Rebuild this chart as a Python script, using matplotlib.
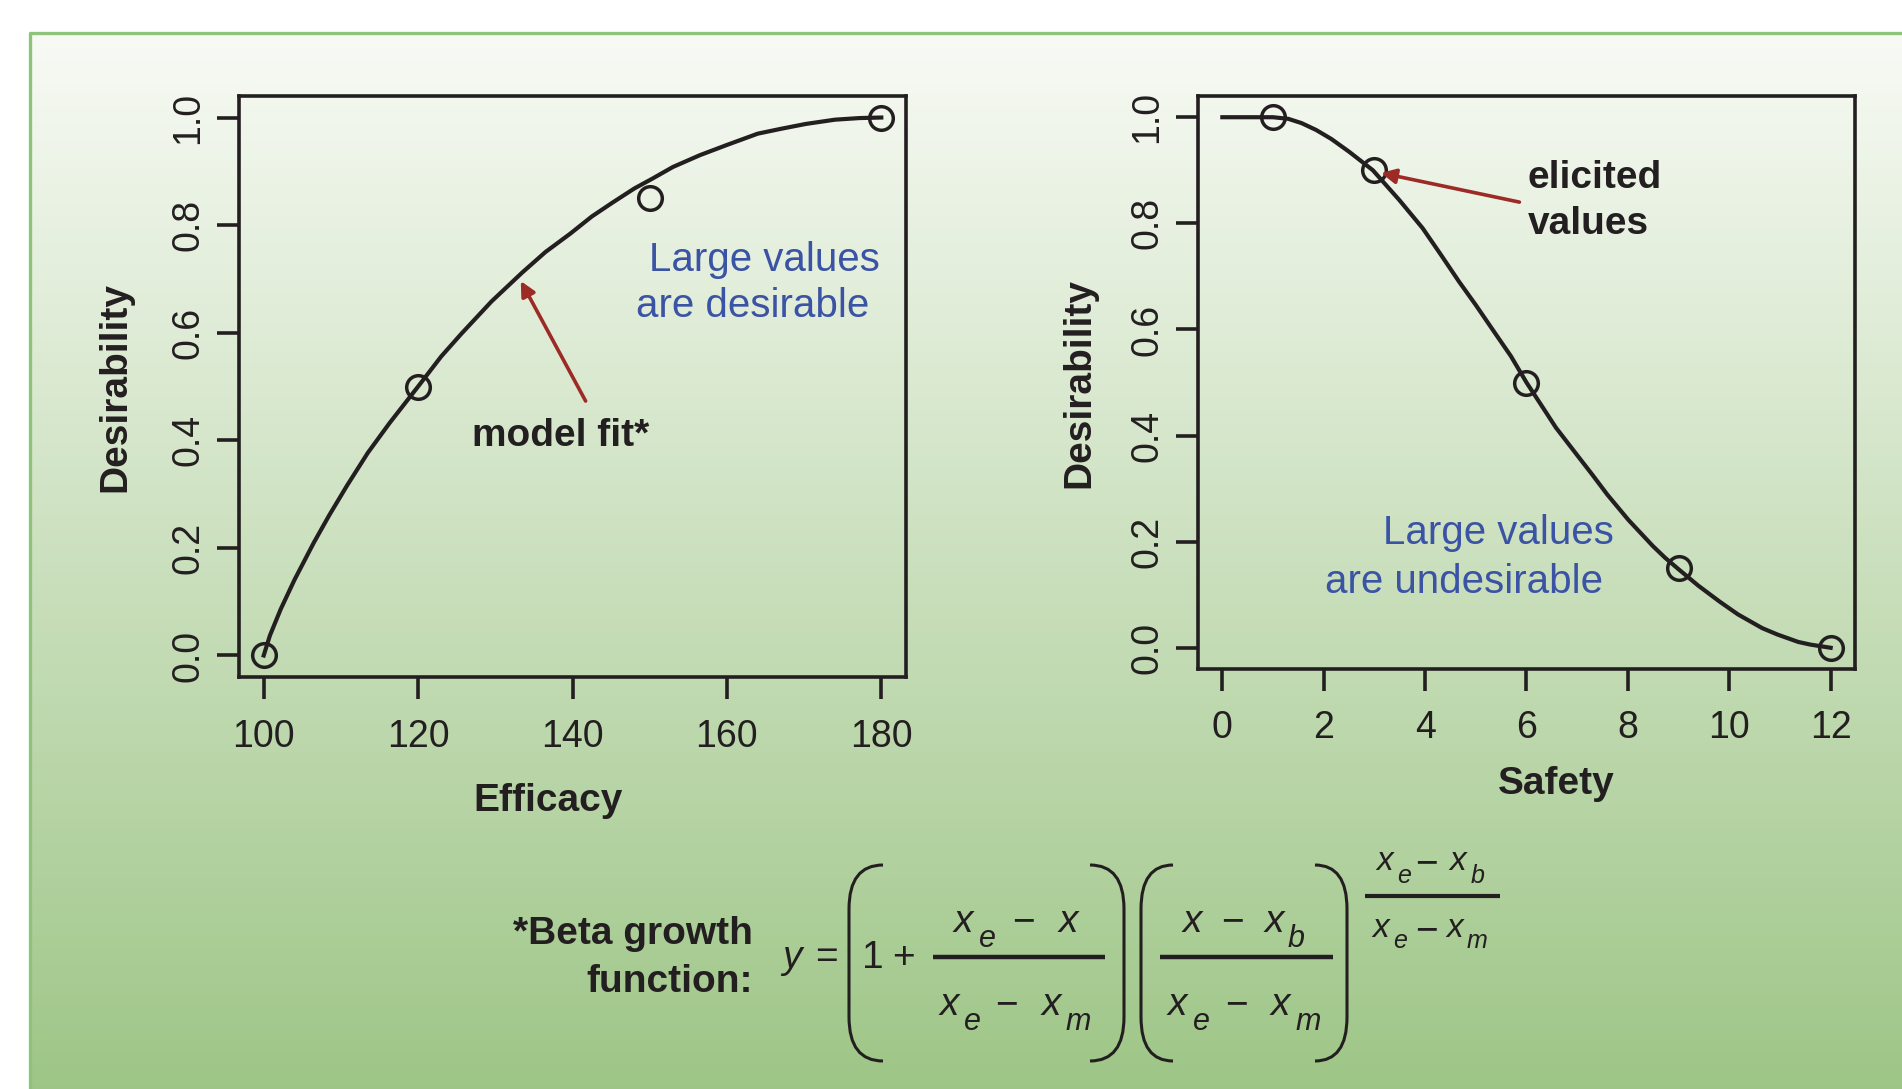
import numpy as np
import matplotlib.pyplot as plt
from matplotlib.path import Path
from matplotlib.patches import PathPatch

plt.rcParams['font.family'] = ['Liberation Sans', 'DejaVu Sans']

# efficacy: elicited points and the fitted beta growth curve
eff_x = [100, 120, 150, 180]
eff_y = [0.0, 0.5, 0.85, 1.0]
eff_fit_x = [100, 100.8, 102.2, 104, 106.5, 108.5, 110.8, 113.5, 116.3, 120,
             123, 125.6, 129.5, 133.5, 136.5, 139.7, 142.5, 145.2, 148, 150.3,
             153, 156.5, 160, 164, 167, 170.2, 174, 177.2, 180]
eff_fit_y = [0.0, 0.037, 0.086, 0.141, 0.21, 0.261, 0.316, 0.377, 0.432, 0.5,
             0.556, 0.598, 0.658, 0.712, 0.75, 0.784, 0.816, 0.842, 0.868,
             0.886, 0.908, 0.93, 0.949, 0.97, 0.979, 0.988, 0.996, 0.999, 1.0]

# safety: elicited points and the fitted curve
saf_x = [1, 3, 6, 9, 12]
saf_y = [1.0, 0.9, 0.5, 0.15, 0.0]
saf_fit_x = [0, 1, 1.3, 1.56, 1.85, 2.15, 2.5, 2.97, 3.49, 3.95, 4.31, 4.67,
             5.0, 5.38, 5.69, 6, 6.28, 6.58, 7.0, 7.3, 7.6, 8.01, 8.49, 8.73,
             9, 9.39, 9.81, 10.17, 10.65, 10.95, 11.36, 11.6, 12]
saf_fit_y = [1.0, 1.0, 0.997, 0.989, 0.976, 0.959, 0.935, 0.9, 0.844, 0.791,
             0.741, 0.69, 0.646, 0.593, 0.55, 0.5, 0.459, 0.415, 0.363, 0.326,
             0.288, 0.241, 0.192, 0.17, 0.148, 0.117, 0.087, 0.063, 0.037,
             0.025, 0.011, 0.006, 0.0]

eff_ticks = [100, 120, 140, 160, 180]
saf_ticks = [0, 2, 4, 6, 8, 10, 12]
des_ticks = [0.0, 0.2, 0.4, 0.6, 0.8, 1.0]

INK = '#231f20'
BLUE = '#3b53a4'
RED = '#9b2b24'

fig = plt.figure(figsize=(19.02, 10.89), dpi=100)

# background panel in pixel coordinates
bg = fig.add_axes([0, 0, 1, 1], zorder=-5)
bg.set_xlim(0, 1902)
bg.set_ylim(1089, 0)
bg.axis('off')
top = np.array([0.973, 0.982, 0.961])
bot = np.array([0.62, 0.776, 0.53])
t = np.linspace(0, 1, 256)[:, None, None]
grad = top * (1 - t) + bot * t
bg.imshow(grad, extent=(29, 1902, 1089, 32), aspect='auto', interpolation='bilinear')
bg.plot([30, 30, 1902], [1089, 33, 33], color='#8dc47a', lw=2.4)


def style_axes(ax, xticks, xlim, xpad):
    ax.set_facecolor('none')
    for s in ax.spines.values():
        s.set_linewidth(2.6)
        s.set_color(INK)
    ax.set_xticks(xticks)
    ax.set_yticks(des_ticks)
    ax.set_yticklabels([f'{v:.1f}' for v in des_ticks])
    ax.set_xlim(*xlim)
    ax.set_ylim(-0.04, 1.04)
    ax.tick_params(direction='out', length=16, width=2.6, color=INK,
                   labelsize=27, labelcolor=INK)
    ax.tick_params(axis='x', pad=xpad)
    ax.tick_params(axis='y', labelrotation=90, pad=7.5)
    for lbl in ax.get_yticklabels():
        lbl.set_va('center')


# left panel: efficacy
ax1 = fig.add_axes([239 / 1902, 1 - 677 / 1089, 667 / 1902, 581 / 1089])
style_axes(ax1, eff_ticks, (96.8, 183.2), 14.5)
ax1.plot(eff_fit_x, eff_fit_y, color=INK, lw=3.0, solid_joinstyle='round')
ax1.plot(eff_x, eff_y, 'o', mfc='none', mec=INK, ms=17, mew=2.5, clip_on=False)
ax1.set_xlabel('Efficacy', fontsize=28, fontweight='bold', color=INK)
ax1.xaxis.set_label_coords(0.463, -0.213)
ax1.xaxis.label.set_va('center')
ax1.set_ylabel('Desirability', fontsize=28, fontweight='bold', color=INK)
ax1.yaxis.set_label_coords(-0.186, 0.5)
ax1.yaxis.label.set_va('center')
ax1.text(138.4, 0.39, 'model fit*', fontsize=28, fontweight='bold',
         color=INK, ha='center', va='baseline')
ax1.annotate('', xy=(133.3, 0.696), xytext=(141.7, 0.473),
             arrowprops=dict(arrowstyle='-|>', color=RED, lw=2.6,
                             mutation_scale=22, shrinkA=0, shrinkB=0))
ax1.text(179.8, 0.714, 'Large values', fontsize=29, color=BLUE,
         ha='right', va='baseline')
ax1.text(178.4, 0.629, 'are desirable', fontsize=29, color=BLUE,
         ha='right', va='baseline')

# right panel: safety
ax2 = fig.add_axes([1198 / 1902, 1 - 669 / 1089, 657 / 1902, 573 / 1089])
style_axes(ax2, saf_ticks, (-0.48, 12.48), 13.7)
ax2.plot(saf_fit_x, saf_fit_y, color=INK, lw=3.0, solid_joinstyle='round')
ax2.plot(saf_x, saf_y, 'o', mfc='none', mec=INK, ms=17, mew=2.5, clip_on=False)
ax2.set_xlabel('Safety', fontsize=28, fontweight='bold', color=INK)
ax2.xaxis.set_label_coords(0.546, -0.201)
ax2.xaxis.label.set_va('center')
ax2.set_ylabel('Desirability', fontsize=28, fontweight='bold', color=INK)
ax2.yaxis.set_label_coords(-0.181, 0.5)
ax2.yaxis.label.set_va('center')
ax2.text(6.02, 0.867, 'elicited', fontsize=28, fontweight='bold',
         color=INK, ha='left', va='baseline')
ax2.text(6.02, 0.779, 'values', fontsize=28, fontweight='bold',
         color=INK, ha='left', va='baseline')
ax2.annotate('', xy=(3.13, 0.895), xytext=(5.86, 0.84),
             arrowprops=dict(arrowstyle='-|>', color=RED, lw=2.6,
                             mutation_scale=22, shrinkA=0, shrinkB=0))
ax2.text(7.72, 0.195, 'Large values', fontsize=29, color=BLUE,
         ha='right', va='baseline')
ax2.text(7.5, 0.103, 'are undesirable', fontsize=29, color=BLUE,
         ha='right', va='baseline')


# beta growth formula, laid out in pixels
def paren(x_tip, x_side, y0, y1, hook=44):
    verts = [(x_tip, y0), (x_side, y0), (x_side, y0 + hook),
             (x_side, y1 - hook), (x_side, y1), (x_tip, y1)]
    codes = [Path.MOVETO, Path.CURVE3, Path.CURVE3,
             Path.LINETO, Path.CURVE3, Path.CURVE3]
    bg.add_patch(PathPatch(Path(verts, codes), fill=False, ec=INK, lw=2.2))


def term(base, drop, size, sub_size, glyphs, minus_lift=0):
    # glyphs: (left x, text, is_subscript)
    for x, s, is_sub in glyphs:
        if s == '\u2212':
            bg.text(x, base + minus_lift, s, fontsize=28, color=INK,
                    ha='left', va='baseline')
        elif is_sub:
            bg.text(x, base + drop, s, fontsize=sub_size, style='italic',
                    color=INK, ha='left', va='baseline')
        else:
            bg.text(x, base, s, fontsize=size, style='italic',
                    color=INK, ha='left', va='baseline')


M = '\u2212'

bg.text(753, 944, '*Beta growth', fontsize=28, fontweight='bold', color=INK,
        ha='right', va='baseline')
bg.text(753, 992, 'function:', fontsize=28, fontweight='bold', color=INK,
        ha='right', va='baseline')
bg.text(792, 968, 'y', fontsize=28, style='italic', color=INK, ha='center', va='baseline')
bg.text(826, 968, '=', fontsize=28, color=INK, ha='center', va='baseline')
bg.text(873, 968, '1', fontsize=28, color=INK, ha='center', va='baseline')
bg.text(903, 968, '+', fontsize=28, color=INK, ha='center', va='baseline')

paren(883, 849, 865, 1061)
paren(1090, 1124, 865, 1061)
paren(1173, 1141, 865, 1061)
paren(1315, 1347, 865, 1061)

bg.plot([933, 1105], [957, 957], color=INK, lw=3.2, solid_capstyle='butt')
bg.plot([1160, 1333], [957, 957], color=INK, lw=3.2, solid_capstyle='butt')
bg.plot([1365, 1500], [896, 896], color=INK, lw=3.0, solid_capstyle='butt')

term(932, 15, 28, 22, [(954, 'x', False), (979, 'e', True), (1012, M, False),
                       (1059, 'x', False)])
term(1015, 15, 28, 22, [(940, 'x', False), (964, 'e', True), (995, M, False),
                        (1042, 'x', False), (1066, 'm', True)])
term(932, 15, 28, 22, [(1183, 'x', False), (1221, M, False), (1265, 'x', False),
                       (1288, 'b', True)])
term(1015, 15, 28, 22, [(1168, 'x', False), (1193, 'e', True), (1225, M, False),
                        (1271, 'x', False), (1295, 'm', True)])
term(870, 13, 24, 18, [(1376, 'x', False), (1397, 'e', True), (1415, M, False),
                       (1449, 'x', False), (1471, 'b', True)], minus_lift=4)
term(937, 11, 24, 18, [(1372, 'x', False), (1393, 'e', True), (1415, M, False),
                       (1446, 'x', False), (1467, 'm', True)], minus_lift=4)

fig.savefig('out.png', dpi=100)
